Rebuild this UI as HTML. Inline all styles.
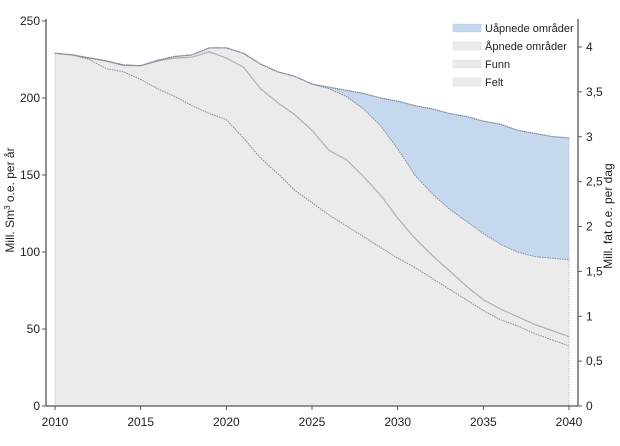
<!DOCTYPE html>
<html><head><meta charset="utf-8">
<style>
html,body{margin:0;padding:0;background:#fff;}
svg{display:block;font-family:"Liberation Sans",sans-serif;}
</style></head>
<body>
<svg id="chart" width="620" height="446" viewBox="0 0 620 446" xmlns="http://www.w3.org/2000/svg"></svg>
<script>
const years = [2010,2011,2012,2013,2014,2015,2016,2017,2018,2019,2020,2021,2022,2023,2024,2025,2026,2027,2028,2029,2030,2031,2032,2033,2034,2035,2036,2037,2038,2039,2040];
const felt = [229,228,225,219,217,212,206,201,195,190,186,174,161,151,140,132,124,117,110,103,96,90,83,76,69,62,56,52,47,43,39];
const funn = [229,228,226,224,221,221,224,226,226.5,230,226,220,206,197,189,179,166,160,149,137,122,109,98,88,78,69,63,58,53,49,45];
const apnede = [229,228,226,224,221.5,221,224.5,227,228,232.5,232.5,229,222,217,214,209,206,201,193,182,167,150,138,128,120,112,105,100,97,96,95];
const uapnede = [229,228,226,224,221.5,221,224.5,227,228,232.5,232.5,229,222,217,214,209,207,205,203,200,198,195,193,190,188,185,183,179,177,175,174];
const leftTicks = [0,50,100,150,200,250];
const rightTicks = ["0","0,5","1","1,5","2","2,5","3","3,5","4"];
const xTicks = [2010,2015,2020,2025,2030,2035,2040];
const legendLabels = ["Uåpnede områder","Åpnede områder","Funn","Felt"];

const svg = document.getElementById('chart');
const NS = 'http://www.w3.org/2000/svg';
const X0=55, X1=569, Y0=406, YT=21;
const xs = y => X0 + (y-2010)*(X1-X0)/30;
const ys = v => Y0 - v*(Y0-YT)/250;
const yr = v => Y0 - v*89.75;
function mk(tag, attrs, parent){const e=document.createElementNS(NS,tag);for(const k in attrs)e.setAttribute(k,attrs[k]);(parent||svg).appendChild(e);return e;}
function line(arr){return arr.map((v,i)=>xs(years[i]).toFixed(1)+','+ys(v).toFixed(1)).join(' ');}
function area(top,bot){
  const t=top.map((v,i)=>xs(years[i]).toFixed(1)+','+ys(v).toFixed(1));
  const b=bot?bot.map((v,i)=>xs(years[i]).toFixed(1)+','+ys(v).toFixed(1)).reverse():[xs(2040)+','+Y0, xs(2010)+','+Y0];
  return t.concat(b).join(' ');
}
let e;
e=mk('polygon',{points:area(uapnede,apnede),fill:'#c6d8f0',stroke:'none'});
 
e=mk('polygon',{points:area(apnede,null),fill:'#ebebeb',stroke:'none'});
 
e=mk('line',{x1:X0,y1:ys(229),x2:X0,y2:Y0,stroke:'#bbb','stroke-dasharray':'1,1'});
 
e=mk('line',{x1:X1,y1:ys(174),x2:X1,y2:Y0,stroke:'#bbb','stroke-dasharray':'1,1'});
 
e=mk('polyline',{points:line(felt),fill:'none',stroke:'#888','stroke-width':1,'stroke-dasharray':'1.5,1'});
 
e=mk('polyline',{points:line(funn),fill:'none',stroke:'#b0b0b0','stroke-width':1.2});
 
e=mk('polyline',{points:line(apnede),fill:'none',stroke:'#7d8a9c','stroke-width':1,'stroke-dasharray':'1.5,1'});
 
e=mk('polyline',{points:line(uapnede),fill:'none',stroke:'#7d8a9c','stroke-width':1.2,'stroke-dasharray':'1.5,0.5'});
 

e=mk('line',{x1:46,y1:YT-2,x2:46,y2:Y0,stroke:'#555','stroke-width':1.3});
 
e=mk('line',{x1:578,y1:YT-2,x2:578,y2:Y0,stroke:'#555','stroke-width':1.3});
 
e=mk('line',{x1:46,y1:Y0,x2:578,y2:Y0,stroke:'#555','stroke-width':1.3});
 
leftTicks.forEach(v=>{
  const y=ys(v);
  e=mk('line',{x1:42,y1:y,x2:46,y2:y,stroke:'#555'});
   
  e=mk('text',{x:40,y:y+4,'text-anchor':'end','font-size':12,fill:'#222'}); e.textContent=v;
   
});
rightTicks.forEach((s,i)=>{
  const y=yr(i*0.5);
  e=mk('line',{x1:578,y1:y,x2:582,y2:y,stroke:'#555'});
   
  e=mk('text',{x:586,y:y+4,'font-size':12,fill:'#222'}); e.textContent=s;
   
});
xTicks.forEach(v=>{
  const x=xs(v);
  e=mk('line',{x1:x,y1:Y0,x2:x,y2:Y0+4,stroke:'#555'});
   
  e=mk('text',{x:x,y:Y0+20,'text-anchor':'middle','font-size':12,fill:'#222'}); e.textContent=v;
   
});
e=mk('text',{x:14,y:200,'text-anchor':'middle','font-size':12,fill:'#222',transform:'rotate(-90 14 200)'});
e.innerHTML='Mill. Sm<tspan dy="-4" font-size="8">3</tspan><tspan dy="4"> o.e. per år</tspan>';
 
e=mk('text',{x:612,y:216,'text-anchor':'middle','font-size':12,fill:'#222',transform:'rotate(-90 612 216)'});
e.textContent='Mill. fat o.e. per dag';
 

const fills=['#c6d8f0','#ebebeb','#ebebeb','#ebebeb'];
legendLabels.forEach((s,i)=>{
  const y=28+i*18;
  e=mk('rect',{x:453,y:y-4,width:28,height:8,fill:fills[i],stroke:i==0?'#9db4d6':'#ccc','stroke-width':0.6,'stroke-dasharray':'1,1'});
   
  e=mk('text',{x:485,y:y+4,'font-size':11,fill:'#222'}); e.textContent=s;
   
});
</script>
</body></html>
